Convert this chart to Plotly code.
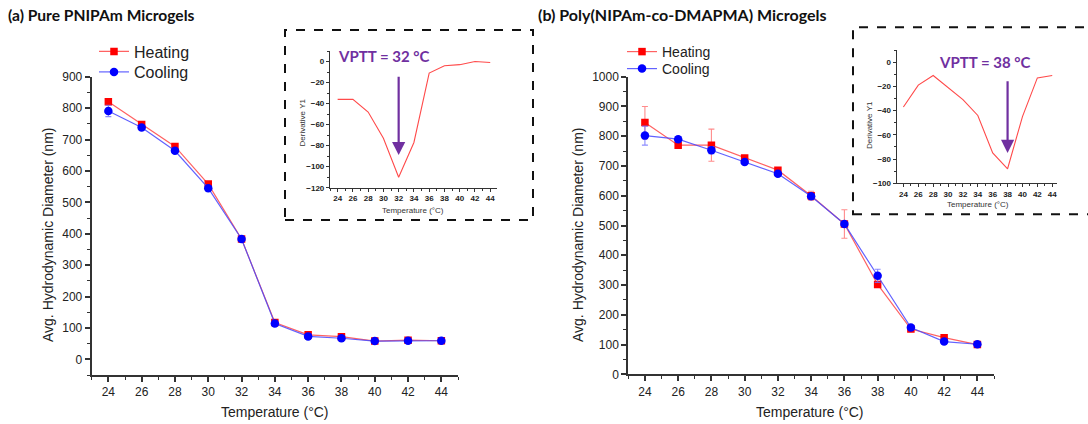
import plotly.graph_objects as go

W, H = 1088, 424

# ---- data -------------------------------------------------------------
temps = [24, 26, 28, 30, 32, 34, 36, 38, 40, 42, 44]

a_heat = [820, 748, 678, 558, 383, 117, 78, 72, 58, 61, 59]
a_heat_err = [8, 5, 5, 5, 5, 5, 4, 4, 3, 3, 3]
a_cool = [791, 738, 664, 545, 383, 114, 73, 67, 58, 59, 59]
a_cool_err = [18, 5, 5, 6, 5, 5, 4, 4, 3, 3, 3]

b_heat = [846, 770, 770, 727, 686, 600, 505, 302, 152, 123, 100]
b_heat_err = [54, 8, 54, 5, 5, 15, 48, 8, 5, 5, 3]
b_cool = [802, 790, 753, 713, 674, 598, 505, 331, 157, 110, 101]
b_cool_err = [32, 8, 12, 5, 5, 8, 5, 22, 5, 5, 3]

a_deriv = [-36, -36, -48, -73, -110, -77, -11, -4, -3, 0, -1]
b_deriv = [-37, -19, -11, -21, -31, -44, -75, -88, -45, -13, -11]

vptt_a = 32
vptt_b = 38

# ---- helpers ----------------------------------------------------------
def px(x):
    return x / W

def py(y):
    return 1 - y / H

RED = "#FF0000"
BLUE = "#0000FF"
RED_LINE = "rgba(255,70,70,0.85)"
BLUE_LINE = "rgba(70,70,255,0.85)"
RED_ERR = "rgba(255,110,110,0.8)"
BLUE_ERR = "rgba(110,110,255,0.8)"
PURPLE = "#7030A0"
AXIS_COL = "#333333"
SANS = "Liberation Sans, Arial, sans-serif"
TITLE_FONT = "Lato, Open Sans, sans-serif"

fig = go.Figure()


def add_series(x, y, err, name, color, line_col, err_col, symbol, xa, ya, legend):
    fig.add_trace(go.Scatter(
        x=x, y=y, name=name, mode="lines+markers",
        xaxis=xa, yaxis=ya, legend=legend,
        line=dict(color=line_col, width=1.2),
        marker=dict(color=color, size=7.5 if symbol == "square" else 8.5, symbol=symbol,
                    line=dict(width=0)),
        error_y=dict(type="data", array=err, color=err_col, thickness=1.1, width=3),
    ))


add_series(temps, a_heat, a_heat_err, "Heating", RED, RED_LINE, RED_ERR, "square", "x", "y", "legend")
add_series(temps, a_cool, a_cool_err, "Cooling", BLUE, BLUE_LINE, BLUE_ERR, "circle", "x", "y", "legend2")
add_series(temps, b_heat, b_heat_err, "Heating", RED, RED_LINE, RED_ERR, "square", "x2", "y2", "legend3")
add_series(temps, b_cool, b_cool_err, "Cooling", BLUE, BLUE_LINE, BLUE_ERR, "circle", "x2", "y2", "legend4")

# derivative insets
fig.add_trace(go.Scatter(x=temps, y=a_deriv, mode="lines", xaxis="x3", yaxis="y3",
                         line=dict(color="#FF4A4A", width=1.1), showlegend=False))
fig.add_trace(go.Scatter(x=temps, y=b_deriv, mode="lines", xaxis="x4", yaxis="y4",
                         line=dict(color="#FF4A4A", width=1.1), showlegend=False))


def main_x(domain, anchor):
    return dict(domain=domain, anchor=anchor, range=[23, 45], tickmode="array", tickvals=temps,
                showline=True, linecolor=AXIS_COL, linewidth=2, ticks="outside", automargin=False,
                ticklen=5, tickwidth=1.5, tickcolor=AXIS_COL, showgrid=False, zeroline=False,
                tickfont=dict(family=SANS, size=12, color="#222222"),
                minor=dict(dtick=1, tick0=23, ticks="outside", ticklen=3, tickcolor=AXIS_COL, tickwidth=1.2))


def main_y(domain, rng, anchor):
    return dict(domain=domain, anchor=anchor, range=rng, tickmode="linear", tick0=0, dtick=100,
                showline=True, linecolor=AXIS_COL, linewidth=2, ticks="outside", automargin=False,
                ticklen=5, tickwidth=1.5, tickcolor=AXIS_COL, showgrid=False, zeroline=False,
                tickfont=dict(family=SANS, size=12, color="#222222"),
                minor=dict(dtick=50, tick0=0, ticks="outside", ticklen=3, tickcolor=AXIS_COL, tickwidth=1.2))


def inset_x(domain, rng, anchor):
    return dict(domain=domain, anchor=anchor, range=rng, tickmode="array", tickvals=temps,
                showline=True, linecolor=AXIS_COL, linewidth=1.2, ticks="outside", automargin=False,
                ticklen=3, tickwidth=1, tickcolor=AXIS_COL, showgrid=False, zeroline=False,
                tickfont=dict(family=SANS, size=8, color="#222222", weight="bold"),
                minor=dict(dtick=1, tick0=23, ticks="outside", ticklen=2, tickcolor=AXIS_COL, tickwidth=0.8))


def inset_y(domain, rng, anchor):
    return dict(domain=domain, anchor=anchor, range=rng, tickmode="linear", tick0=0, dtick=20,
                showline=True, linecolor=AXIS_COL, linewidth=1.2, ticks="outside", automargin=False,
                ticklen=3, tickwidth=1, tickcolor=AXIS_COL, showgrid=False, zeroline=False,
                tickfont=dict(family=SANS, size=8, color="#222222", weight="bold"),
                minor=dict(dtick=10, tick0=0, ticks="outside", ticklen=2, tickcolor=AXIS_COL, tickwidth=0.8))


def legend_at(x, y, size):
    return dict(x=px(x), y=py(y), xanchor="left", yanchor="middle",
                bgcolor="rgba(0,0,0,0)", borderwidth=0, itemwidth=30,
                font=dict(family=SANS, size=size, color="#222222"))


fig.update_layout(
    width=W, height=H, autosize=False,
    margin=dict(l=0, r=0, t=0, b=0, pad=0),
    paper_bgcolor="white", plot_bgcolor="rgba(0,0,0,0)",
    xaxis=main_x([px(91.7), px(458)], "y"),
    yaxis=main_y([py(375), py(76.7)], [-50, 900], "x"),
    xaxis2=main_x([px(628.3), px(994)], "y2"),
    yaxis2=main_y([py(374.3), py(76.7)], [0, 1000], "x2"),
    xaxis3=inset_x([px(330), px(496.7)], [23, 44.85], "y3"),
    yaxis3=inset_y([py(187.7), py(51)], [-120, 10], "x3"),
    xaxis4=inset_x([px(896.7), px(1056.7)], [23.1, 44.6], "y4"),
    yaxis4=inset_y([py(183.3), py(50)], [-100, 10], "x4"),
    legend=legend_at(94, 51.5, 16),
    legend2=legend_at(94, 72, 16),
    legend3=legend_at(622, 52, 14),
    legend4=legend_at(622, 69, 14),
)

annotations = [
    # panel titles
    dict(text="<b>(a) Pure PNIPAm Microgels</b>", x=px(6), y=py(15), xanchor="left", yanchor="middle",
         font=dict(family=TITLE_FONT, size=15.6, color="#111111")),
    dict(text="<b>(b) Poly(NIPAm-co-DMAPMA) Microgels</b>", x=px(536), y=py(15), xanchor="left",
         yanchor="middle", font=dict(family=TITLE_FONT, size=16, color="#111111")),
    # main axis titles
    dict(text="Avg. Hydrodynamic Diameter (nm)", x=px(48), y=py(235), textangle=-90,
         xanchor="center", yanchor="middle", font=dict(family=SANS, size=14, color="#222222")),
    dict(text="Avg. Hydrodynamic Diameter (nm)", x=px(578), y=py(235), textangle=-90,
         xanchor="center", yanchor="middle", font=dict(family=SANS, size=14, color="#222222")),
    dict(text="Temperature (°C)", x=px(275), y=py(411.5), xanchor="center", yanchor="middle",
         font=dict(family=SANS, size=14, color="#222222")),
    dict(text="Temperature (°C)", x=px(810), y=py(411.5), xanchor="center", yanchor="middle",
         font=dict(family=SANS, size=14, color="#222222")),
    # inset axis titles
    dict(text="Temperature (°C)", x=px(413), y=py(210.5), xanchor="center", yanchor="middle",
         font=dict(family=SANS, size=8, color="#333333")),
    dict(text="Derivative Y1", x=px(301.5), y=py(123), textangle=-90, xanchor="center", yanchor="middle",
         font=dict(family=SANS, size=8, color="#333333")),
    dict(text="Temperature (°C)", x=px(978), y=py(204), xanchor="center", yanchor="middle",
         font=dict(family=SANS, size=8, color="#333333")),
    dict(text="Derivative Y1", x=px(870), y=py(125), textangle=-90, xanchor="center", yanchor="middle",
         font=dict(family=SANS, size=8, color="#333333")),
    # VPTT labels
    dict(text=f"<b>VPTT = {vptt_a} °C</b>", x=px(383.5), y=py(56), xanchor="center", yanchor="middle",
         font=dict(family=TITLE_FONT, size=15, color=PURPLE)),
    dict(text=f"<b>VPTT = {vptt_b} °C</b>", x=px(985), y=py(62), xanchor="center", yanchor="middle",
         font=dict(family=TITLE_FONT, size=15, color=PURPLE)),
]

for d in annotations:
    d.update(xref="paper", yref="paper", showarrow=False)

# arrows pointing at the derivative minima
annotations += [
    dict(x=vptt_a, y=-89, ax=vptt_a, ay=-13, xref="x3", yref="y3", axref="x3", ayref="y3",
         showarrow=True, arrowhead=2, arrowsize=1.2, arrowwidth=2.2, arrowcolor=PURPLE, text=""),
    dict(x=vptt_b, y=-75, ax=vptt_b, ay=-14.5, xref="x4", yref="y4", axref="x4", ayref="y4",
         showarrow=True, arrowhead=2, arrowsize=1.2, arrowwidth=2.2, arrowcolor=PURPLE, text=""),
]
fig.update_layout(annotations=annotations)

# dashed frames around the insets
fig.update_layout(shapes=[
    dict(type="rect", xref="paper", yref="paper",
         x0=px(285), x1=px(533), y0=py(220), y1=py(30),
         line=dict(color="#111111", width=2, dash="dash")),
    dict(type="rect", xref="paper", yref="paper",
         x0=px(853), x1=px(1100), y0=py(214.3), y1=py(27.3),
         line=dict(color="#111111", width=2, dash="dash")),
])

# keep the page exactly the size of the figure
page_css = ("document.documentElement.style.margin='0';document.body.style.margin='0';"
            "document.documentElement.style.overflow='hidden';document.body.style.overflow='hidden';")

fig.write_html("out.html", post_script=page_css)
